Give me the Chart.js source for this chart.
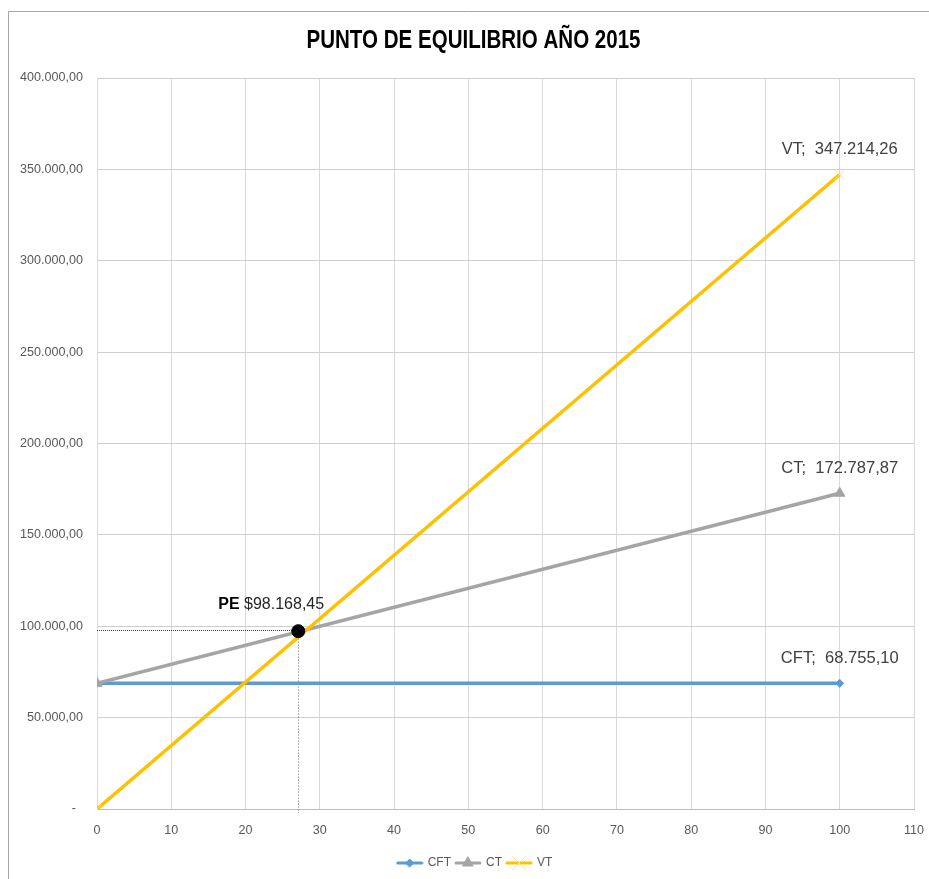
<!DOCTYPE html>
<html>
<head>
<meta charset="utf-8">
<script src="https://cdn.jsdelivr.net/npm/chart.js@4"></script>
<style>
html,body{margin:0;padding:0;background:#fff;}
#wrap{position:relative;width:929px;height:879px;}
canvas{display:block;}
</style>
</head>
<body>
<div id="wrap"><canvas id="c" width="929" height="879"></canvas></div>
<script>
// ---------------- data ----------------
const chartTitle = 'PUNTO DE EQUILIBRIO AÑO 2015';
const seriesNames = ['CFT', 'CT', 'VT'];
const xValues = [0, 100];
const cftValues = [68755.10, 68755.10];
const ctValues = [68755.10, 172787.87];
const vtValues = [0, 347214.26];
const peX = [27.1];
const peDotY = [97300];
const peValue = 98168.45;
const xTickStep = 10;
const xMax = 110;
const yTickStep = 50000;
const yMax = 400000;

// ---------------- styles ----------------
const NARROW = "'Liberation Sans Narrow', 'Liberation Sans', Arial, sans-serif";
const SANS = "'Liberation Sans', Arial, sans-serif";
const COLORS = { CFT: '#5B9BD5', CT: '#A5A5A5', VT: '#FFC000' };

function fitSize(text, weight, family, target, base) {
  const c = document.createElement('canvas').getContext('2d');
  c.font = weight + ' ' + base + 'px ' + family;
  const w = c.measureText(text).width;
  return +(base * target / w).toFixed(2);
}
const tickSize = Math.min(15, fitSize('400.000,00', 'normal', NARROW, 63, 14));
const legendSize = 12;
const labelSize = fitSize('CT;  172.787,87', 'normal', SANS, 117, 16);
const peSize = 16;

function fmt(v) {
  const parts = Math.abs(v).toFixed(2).split('.');
  return parts[0].replace(/\B(?=(\d{3})+(?!\d))/g, '.') + ',' + parts[1];
}

const pointDefs = {
  CFT: {style: 'rectRot', radius: 4, bw: 1, pc: COLORS.CFT, bg: COLORS.CFT, lr: 4},
  CT: {style: 'triangle', radius: 6, bw: 1, pc: COLORS.CT, bg: COLORS.CT, lr: 6},
  VT: {style: 'crossRot', radius: 7, bw: 1, pc: '#FFE08A', bg: '#FFE08A', lr: 9}
};
const seriesValues = [cftValues, ctValues, vtValues];

function makeIcon(name) {
  const d = pointDefs[name];
  const cv = document.createElement('canvas');
  cv.width = 28; cv.height = 14;
  const g = cv.getContext('2d');
  g.strokeStyle = COLORS[name]; g.lineWidth = 3; g.lineCap = 'round';
  g.beginPath(); g.moveTo(2, 7); g.lineTo(26, 7); g.stroke();
  g.fillStyle = d.pc; g.strokeStyle = d.pc; g.lineWidth = d.bw;
  Chart.helpers.drawPoint(g, {pointStyle: d.style, radius: d.lr, borderWidth: d.bw, rotation: 0}, 14, 7);
  return cv;
}

const datasets = seriesNames.map((name, i) => ({
  label: name,
  data: xValues.map((x, j) => ({x: x, y: seriesValues[i][j]})),
  borderColor: COLORS[name],
  backgroundColor: pointDefs[name].bg,
  borderWidth: 3.5,
  pointStyle: pointDefs[name].style,
  pointRadius: pointDefs[name].radius,
  pointBorderColor: pointDefs[name].pc,
  pointBackgroundColor: pointDefs[name].bg,
  pointBorderWidth: pointDefs[name].bw,
  tension: 0,
  order: 3 - i
}));
datasets.push({
  label: 'PE',
  data: peX.map((x, j) => ({x: x, y: peDotY[j]})),
  showLine: false,
  pointStyle: 'circle',
  pointRadius: 6.5,
  pointBackgroundColor: '#000',
  pointBorderColor: '#000',
  borderColor: '#000',
  backgroundColor: '#000',
  order: 0
});

const legendHeight = legendSize + 5 + 10;
const xAxisHeight = 879 - legendHeight - 809;

const decorPlugin = {
  id: 'decor',
  beforeDraw(chart) {
    // let y-axis labels extend to the left of the axis box
    chart.scales.y._computeLabelArea = function () { return undefined; };
    const ctx = chart.ctx;
    ctx.save();
    ctx.strokeStyle = '#A6A6A6'; ctx.lineWidth = 1;
    ctx.beginPath(); ctx.moveTo(8.5, 879); ctx.lineTo(8.5, 11.5); ctx.lineTo(929, 11.5); ctx.stroke();
    // title (condensed look)
    ctx.font = 'bold 25px ' + SANS;
    const w = ctx.measureText(chartTitle).width;
    ctx.translate(473.5, 41.5);
    ctx.scale(334 / w, 1);
    ctx.fillStyle = '#000';
    ctx.textAlign = 'center'; ctx.textBaseline = 'middle';
    ctx.fillText(chartTitle, 0, 0);
    ctx.restore();
  },
  beforeDatasetsDraw(chart) {
    const ctx = chart.ctx, xs = chart.scales.x, ys = chart.scales.y, a = chart.chartArea;
    const px = xs.getPixelForValue(peX[0]);
    const py = ys.getPixelForValue(peValue);
    ctx.save();
    ctx.strokeStyle = '#404040'; ctx.lineWidth = 1; ctx.setLineDash([1, 1]);
    ctx.beginPath(); ctx.moveTo(a.left, Math.round(py) + 0.5); ctx.lineTo(px, Math.round(py) + 0.5); ctx.stroke();
    ctx.strokeStyle = '#707070'; ctx.setLineDash([1, 2]);
    ctx.beginPath(); ctx.moveTo(Math.round(px) + 0.5, py); ctx.lineTo(Math.round(px) + 0.5, a.bottom + 4); ctx.stroke();
    ctx.restore();
  },
  afterDatasetsDraw(chart) {
    const ctx = chart.ctx;
    ctx.save();
    ctx.fillStyle = '#404040';
    ctx.font = labelSize + 'px ' + SANS;
    ctx.textAlign = 'center'; ctx.textBaseline = 'middle';
    seriesNames.forEach((name, i) => {
      const meta = chart.getDatasetMeta(i);
      const pt = meta.data[meta.data.length - 1];
      const v = seriesValues[i][seriesValues[i].length - 1];
      ctx.fillText(name + ';  ' + fmt(v), pt.x, pt.y - 25);
    });
    // PE label
    const pe = chart.getDatasetMeta(3).data[0];
    let sx = pe.x - 80;
    const sy = pe.y - 27;
    ctx.textAlign = 'left';
    ctx.fillStyle = '#000';
    ctx.font = 'bold ' + peSize + 'px ' + SANS;
    ctx.fillText('PE', sx, sy);
    sx += ctx.measureText('PE ').width;
    ctx.font = peSize + 'px ' + SANS;
    ctx.fillStyle = '#262626';
    ctx.fillText('$' + fmt(peValue), sx, sy);
    ctx.restore();
  }
};

new Chart(document.getElementById('c'), {
  type: 'line',
  data: { datasets: datasets },
  options: {
    responsive: false,
    animation: false,
    devicePixelRatio: 1,
    layout: { padding: { left: 36, right: 15, top: 78, bottom: 0 } },
    scales: {
      x: {
        type: 'linear', min: 0, max: xMax,
        ticks: { stepSize: xTickStep, color: '#595959', font: { family: NARROW, size: tickSize }, padding: 14 },
        grid: { color: '#D9D9D9', drawTicks: false },
        border: { color: '#BFBFBF' },
        afterFit(s) { s.height = xAxisHeight; s.paddingRight = 0; s.paddingLeft = 0; }
      },
      y: {
        min: 0, max: yMax,
        ticks: {
          stepSize: yTickStep, color: '#595959', padding: 14,
          font: { family: NARROW, size: tickSize },
          callback: v => v === 0 ? '-  ' : fmt(v)
        },
        grid: { color: '#CFCFCF', drawTicks: false },
        border: { color: '#D9D9D9' },
        afterFit(s) { s.width = 61; s.paddingTop = 0; s.paddingBottom = 0; }
      }
    },
    plugins: {
      tooltip: { enabled: false },
      title: { display: false },
      legend: {
        position: 'bottom',
        labels: {
          usePointStyle: true, pointStyleWidth: 24, padding: 5,
          color: '#595959', font: { family: NARROW, size: legendSize },
          generateLabels(chart) {
            return seriesNames.map((name, i) => ({
              text: name,
              fillStyle: COLORS[name], strokeStyle: COLORS[name], lineWidth: 0,
              pointStyle: makeIcon(name),
              hidden: false, datasetIndex: i, fontColor: '#595959'
            }));
          }
        }
      }
    }
  },
  plugins: [decorPlugin]
});
</script>
</body>
</html>
